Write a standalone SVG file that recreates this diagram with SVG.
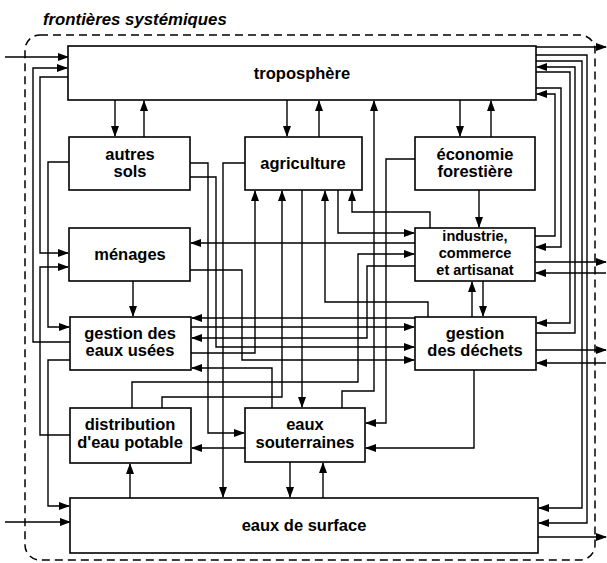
<svg xmlns="http://www.w3.org/2000/svg" width="607" height="563" viewBox="0 0 607 563">
<style>
.b{fill:#fff;stroke:#000;stroke-width:1.6}
.t{font-family:"Liberation Sans",Arial,sans-serif;font-weight:bold;font-size:16.5px;fill:#000;text-anchor:middle}
.s{font-size:14.5px}
.c path{fill:none;stroke:#000;stroke-width:1.4}
.c path.a{marker-end:url(#ah)}
</style>
<defs>
<marker id="ah" markerWidth="11" markerHeight="8" refX="10" refY="4" orient="auto" markerUnits="userSpaceOnUse"><path d="M0,0 L11,4 L0,8 z" fill="#000"/></marker>
</defs>
<rect width="607" height="563" fill="#fff"/>
<text x="43" y="25" style="font-family:'Liberation Sans',Arial,sans-serif;font-weight:bold;font-style:italic;font-size:16.8px">frontières systémiques</text>
<rect x="25" y="35" width="570" height="525" rx="15" fill="none" stroke="#000" stroke-width="1.5" stroke-dasharray="8,5"/>
<g class="c" id="connectors">
<path class="a" d="M5,57 H68"/>
<path class="a" d="M5,522 H70"/>
<path class="a" d="M536,47 H606"/>
<path class="a" d="M535,262 H606"/>
<path class="a" d="M606,273 H536"/>
<path class="a" d="M536,350 H606"/>
<path class="a" d="M606,363 H537"/>
<path class="a" d="M538,537 H606"/>
<path class="a" d="M536,55 H587 V523 H539"/>
<path class="a" d="M536,61 H582 V508 H539"/>
<path class="a" d="M536,333 H575 V67 H537"/>
<path class="a" d="M536,72 H570 V323 H537"/>
<path class="a" d="M536,88 H561 V247 H536"/>
<path class="a" d="M535,236 H555 V94 H537"/>
<path class="a" d="M115,100 V136"/>
<path class="a" d="M144,137 V101"/>
<path class="a" d="M287,100 V136"/>
<path class="a" d="M319,137 V101"/>
<path class="a" d="M342,408 V391 H374 V101"/>
<path class="a" d="M460,100 V136"/>
<path class="a" d="M491,137 V101"/>
<path class="a" d="M479,190 V227"/>
<path class="a" d="M415,159 H386 V423 H366"/>
<path class="a" d="M190,163 H208 V433 H244"/>
<path class="a" d="M190,177 H216 V347 H414"/>
<path class="a" d="M245,163 H223 V497"/>
<path class="a" d="M190,270 H242 V360 H414"/>
<path class="a" d="M415,243 H191"/>
<path class="a" d="M338,190 V233 H414"/>
<path class="a" d="M430,228 V212 H352 V191"/>
<path class="a" d="M191,353 H255 V191"/>
<path class="a" d="M162,408 V397 H282 V191"/>
<path class="a" d="M132,408 V382 H358 V254 H414"/>
<path class="a" d="M415,266 H367 V338 H192"/>
<path class="a" d="M415,318 H192"/>
<path class="a" d="M191,327 H414"/>
<path class="a" d="M272,408 V368 H192"/>
<path class="a" d="M302,190 V407"/>
<path class="a" d="M428,317 V302 H325 V191"/>
<path class="a" d="M472,317 V282"/>
<path class="a" d="M483,281 V316"/>
<path class="a" d="M474,370 V448 H366"/>
<path class="a" d="M245,448 H192"/>
<path class="a" d="M130,498 V464"/>
<path class="a" d="M290,462 V497"/>
<path class="a" d="M323,498 V463"/>
<path class="a" d="M133,281 V316"/>
<path class="a" d="M68,77 H40 V253 H68"/>
<path class="a" d="M70,435 H40 V267 H68"/>
<path class="a" d="M70,342 H33 V68 H67"/>
<path class="a" d="M69,162 H48 V327 H69"/>
<path class="a" d="M70,360 H48 V506 H69"/>
</g>
<g id="troposphere"><rect class="b" x="68" y="46" width="468" height="54"/><text class="t" x="302" y="79">troposphère</text></g>
<g id="autres-sols"><rect class="b" x="69" y="137" width="121" height="53"/><text class="t" x="130" y="160">autres</text><text class="t" x="130" y="177">sols</text></g>
<g id="agriculture"><rect class="b" x="245" y="137" width="117" height="53"/><text class="t" x="303" y="169">agriculture</text></g>
<g id="economie-forestiere"><rect class="b" x="415" y="137" width="120" height="53"/><text class="t" x="475" y="160">économie</text><text class="t" x="475" y="177">forestière</text></g>
<g id="menages"><rect class="b" x="69" y="228" width="121" height="53"/><text class="t" x="130" y="260">ménages</text></g>
<g id="industrie"><rect class="b" x="415" y="228" width="120" height="53"/><text class="t s" x="475" y="241">industrie,</text><text class="t s" x="475" y="258">commerce</text><text class="t s" x="475" y="275">et artisanat</text></g>
<g id="gestion-eaux-usees"><rect class="b" x="70" y="317" width="121" height="53"/><text class="t" x="130" y="339">gestion des</text><text class="t" x="130" y="356">eaux usées</text></g>
<g id="gestion-dechets"><rect class="b" x="415" y="317" width="121" height="53"/><text class="t" x="475" y="339">gestion</text><text class="t" x="475" y="356">des déchets</text></g>
<g id="distribution"><rect class="b" x="70" y="408" width="121" height="55"/><text class="t" x="130" y="430">distribution</text><text class="t" x="130" y="448">d'eau potable</text></g>
<g id="eaux-souterraines"><rect class="b" x="245" y="408" width="120" height="54"/><text class="t" x="305" y="430">eaux</text><text class="t" x="305" y="448">souterraines</text></g>
<g id="eaux-surface"><rect class="b" x="70" y="498" width="468" height="55"/><text class="t" x="304" y="531">eaux de surface</text></g>
</svg>
